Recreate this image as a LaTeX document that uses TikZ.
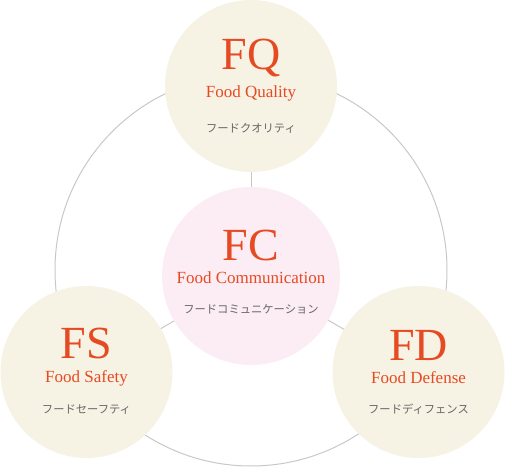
\documentclass[tikz,border=0pt]{standalone}
\usepackage{fontspec}
\setmainfont{Liberation Serif}
\newfontfamily\jp{Noto Sans CJK JP}
\definecolor{beige}{HTML}{F6F2E4}
\definecolor{pinkbg}{HTML}{FCECF4}
\definecolor{orng}{HTML}{E64A23}
\definecolor{jpgray}{HTML}{666666}
\definecolor{ring}{HTML}{C8C8C8}
\tikzset{
  bubble/.style={circle, inner sep=0pt, minimum size=172pt},
  big/.style={anchor=base, text=orng, font=\fontsize{46}{46}\selectfont},
  eng/.style={anchor=base, text=orng, font=\fontsize{17}{18}\selectfont},
  jap/.style={anchor=center, text=jpgray, font=\jp\fontsize{11.3}{12}\selectfont},
  link/.style={draw=ring, line width=1pt}
}
\begin{document}
\begin{tikzpicture}[x=1pt,y=-1pt]
\useasboundingbox (0,0) rectangle (506,470);
\coordinate (ringc) at (251,270);
\draw[link] (ringc) circle[radius=196];
\node[bubble, minimum size=178pt] (fc) at (251,276) {};
\node[bubble] (fq) at (251,86) {};
\node[bubble] (fs) at (86.5,372) {};
\node[bubble] (fd) at (418.5,372) {};
\draw[link] (fc.center) -- (fq.center);
\draw[link] (fc.center) -- (fs.center);
\draw[link] (fc.center) -- (fd.center);
\fill[pinkbg] (fc.center) circle[radius=89];
\fill[beige] (fq.center) circle[radius=86];
\fill[beige] (fs.center) circle[radius=86];
\fill[beige] (fd.center) circle[radius=86];
% FQ
\node[big] (fqt) at (251,70) {FQ};
\node[eng] (fqe) at (251,98) {Food Quality};
\node[jap] (fqj) at (251,128) {フードクオリティ};
% FC
\node[big] (fct) at (251,261) {FC};
\node[eng] (fce) at (251,284) {Food Communication};
\node[jap] (fcj) at (251,309) {フードコミュニケーション};
% FS
\node[big] (fst) at (86.5,359) {FS};
\node[eng] (fse) at (86.5,382) {Food Safety};
\node[jap] (fsj) at (86.5,410) {フードセーフティ};
% FD
\node[big] (fdt) at (418.5,360) {FD};
\node[eng] (fde) at (418.5,383) {Food Defense};
\node[jap] (fdj) at (418.5,409) {フードディフェンス};
\end{tikzpicture}
\end{document}
